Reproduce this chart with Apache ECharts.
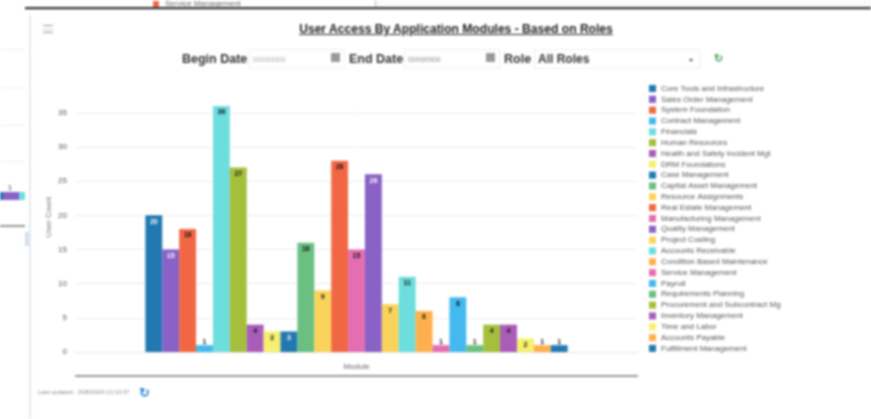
<!DOCTYPE html>
<html>
<head>
<meta charset="utf-8">
<script src="https://cdn.jsdelivr.net/npm/echarts@6/dist/echarts.min.js"></script>
<style>
html,body{margin:0;padding:0;background:#fff;overflow:hidden}
#page{position:relative;width:871px;height:419px;font-family:"Liberation Sans",Arial,sans-serif;filter:blur(.8px);overflow:hidden}
#chart{position:absolute;left:0;top:0;width:871px;height:419px}
.a{position:absolute;white-space:nowrap}
.box{position:absolute;border:1px solid #f0f0f0;box-sizing:border-box;height:20px;top:49px}
</style>
</head>
<body>
<div id="page">
<div id="chart"></div>
<!-- surrounding page -->
<div class="a" style="left:375px;top:0;width:1px;height:7px;background:#bbb"></div>
<div class="a" style="left:376px;top:0;width:495px;height:7px;background:#fafafa"></div>
<div class="a" style="left:25px;top:7px;width:846px;height:1.5px;background:#333"></div>
<div class="a" style="left:25px;top:9px;width:846px;height:1px;background:#ccc"></div>
<div class="a" style="left:29px;top:15px;width:2px;height:404px;background:#e6eaef"></div>
<div class="a" style="left:25px;top:232px;width:4px;height:14px;background:#d5e2ee"></div>
<div class="a" style="left:153px;top:1px;width:6px;height:6px;background:#f26743"></div>
<div class="a" style="left:165px;top:-1px;font-size:8px;line-height:10px;color:#666">Service Management</div>
<!-- cut-off neighbour panel -->
<div class="a" style="left:0;top:49px;width:25px;height:1px;background:#eef1f4"></div>
<div class="a" style="left:0;top:87px;width:25px;height:1px;background:#eef1f4"></div>
<div class="a" style="left:0;top:125px;width:25px;height:1px;background:#eef1f4"></div>
<div class="a" style="left:0;top:161px;width:25px;height:1px;background:#eef1f4"></div>
<div class="a" style="left:0;top:192px;width:3px;height:8px;background:#2279b1"></div>
<div class="a" style="left:3px;top:192px;width:16px;height:8px;background:#8961c7"></div>
<div class="a" style="left:19px;top:192px;width:6px;height:8px;background:#6ddddd"></div>
<div class="a" style="left:8px;top:183px;font-size:7px;line-height:9px;color:#333">1</div>
<div class="a" style="left:0;top:225px;width:25px;height:2px;background:#999"></div>
<!-- hamburger -->
<div class="a" style="left:43px;top:25px;width:10px;height:1px;background:#999"></div>
<div class="a" style="left:43px;top:29px;width:10px;height:1px;background:#ccc"></div>
<div class="a" style="left:43px;top:32px;width:10px;height:1px;background:#999"></div>
<!-- title and filters -->
<div class="a" style="left:298px;top:22px;width:316px;text-align:center;font-size:12.1px;line-height:14px;font-weight:bold;color:#222;text-decoration:underline">User Access By Application Modules - Based on Roles</div>
<div class="a" style="left:182px;top:52px;font-size:12.5px;line-height:15px;font-weight:bold;color:#333">Begin Date</div>
<div class="box" style="left:249px;width:96px"></div>
<div class="a" style="left:253px;top:55px;font-size:6.5px;line-height:9px;color:#aaa">00/00/0000</div>
<div class="a" style="left:331px;top:53px;width:9px;height:9px;background:#999"></div>
<div class="a" style="left:349px;top:52px;font-size:12.5px;line-height:15px;font-weight:bold;color:#333">End Date</div>
<div class="box" style="left:404px;width:96px"></div>
<div class="a" style="left:408px;top:55px;font-size:6.5px;line-height:9px;color:#888">00/00/0000</div>
<div class="a" style="left:486px;top:53px;width:9px;height:9px;background:#999"></div>
<div class="a" style="left:504px;top:52px;font-size:12.5px;line-height:15px;font-weight:bold;color:#333">Role</div>
<div class="box" style="left:534px;width:166px"></div>
<div class="a" style="left:538px;top:52px;font-size:12px;line-height:15px;font-weight:bold;color:#333">All Roles</div>
<div class="a" style="left:689px;top:59px;width:0;height:0;border-left:2.5px solid transparent;border-right:2.5px solid transparent;border-top:3px solid #555"></div>
<div class="a" style="left:714px;top:51px;font-size:11px;line-height:14px;font-weight:bold;color:#3fa34d">↻</div>
<!-- footer -->
<div class="a" style="left:38px;top:388px;font-size:6px;line-height:9px;color:#888">Last updated : 3/28/2024 13:13:37</div>
<div class="a" style="left:139px;top:386px;font-size:13px;line-height:14px;font-weight:bold;color:#2f86d6">↻</div>
</div>
<script>
const categories = ["Module"];
const seriesNames = ["Core Tools and Infrastructure","Sales Order Management","System Foundation","Contract Management","Financials","Human Resources","Health and Safety Incident Mgt","DRM Foundations","Case Management","Capital Asset Management","Resource Assignments","Real Estate Management","Manufacturing Management","Quality Management","Project Costing","Accounts Receivable","Condition Based Maintenance","Service Management","Payroll","Requirements Planning","Procurement and Subcontract Mg","Inventory Management","Time and Labor","Accounts Payable","Fulfillment Management"];
const seriesValues = [20,15,18,1,36,27,4,3,3,16,9,28,15,26,7,11,6,1,8,1,4,4,2,1,1];
const seriesColors = ["#2279b1","#8961c7","#f26743","#44b9f0","#6ddddd","#a5bf3c","#a95cb8","#f6f06f","#2279b1","#69c080","#fad45a","#f26743","#e46eb1","#8961c7","#fad45a","#6ddddd","#ffb04c","#e46eb1","#44b9f0","#69c080","#a5bf3c","#a95cb8","#f6f06f","#ffb04c","#2279b1"];
const whiteLabelColors = ["#2279b1","#8961c7"];
const axisMax = 36;

const chart = echarts.init(document.getElementById('chart'), null, {renderer:'canvas'});
chart.setOption({
  animation:false,
  textStyle:{fontFamily:'"Liberation Sans",Arial,sans-serif'},
  legend:{
    orient:'vertical', left:649, top:84, itemWidth:7, itemHeight:7, itemGap:1.83, padding:0,
    icon:'rect', selectedMode:false,
    textStyle:{fontSize:8, color:'#555', padding:[0,0,0,0], lineHeight:9},
    formatter:n=>n
  },
  grid:{left:75, top:106, width:563, height:246, containLabel:false},
  graphic:[
    {type:'rect', left:75, top:375, shape:{width:563,height:2}, style:{fill:'#999'}},
    {type:'text', x:49, y:217, rotation:Math.PI/2, style:{text:'User Count', fontSize:8, fill:'#777', align:'center', verticalAlign:'middle'}}
  ],
  xAxis:{type:'category', data:categories,
    axisLine:{lineStyle:{color:'#e6e6e6'}}, axisTick:{show:false},
    axisLabel:{fontSize:8, color:'#666', margin:11}},
  yAxis:{type:'value', min:0, max:axisMax, interval:5,
    axisLine:{show:false}, axisTick:{show:false},
    axisLabel:{fontSize:8, color:'#555', margin:8, showMaxLabel:false},
    splitLine:{showMaxLine:false, lineStyle:{color:'#eeeeee'}}},
  series:seriesNames.map((name,i)=>({
    name, type:'bar', barGap:'0%', barCategoryGap:'25%',
    data:[seriesValues[i]],
    itemStyle:{color:seriesColors[i]},
    label:{show:true,
      position:seriesValues[i]<2?'top':'insideTop',
      distance:seriesValues[i]<2?0:3,
      fontSize:7, fontWeight:'bold',
      color:whiteLabelColors.includes(seriesColors[i])&&seriesValues[i]>1?'#fff':'#111'}
  }))
});
</script>
</body>
</html>
